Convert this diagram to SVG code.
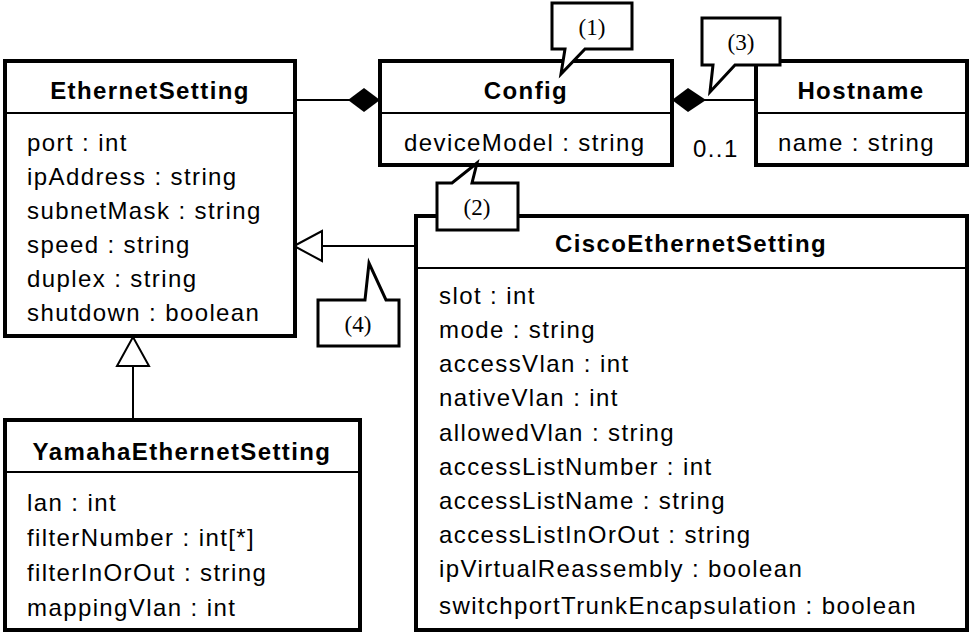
<svg xmlns="http://www.w3.org/2000/svg" width="971" height="634" viewBox="0 0 971 634">
<style>
.box{fill:#fff;stroke:#000;stroke-width:4}
.div{stroke:#000;stroke-width:2}
.t{font-family:"Liberation Sans",Arial,sans-serif;font-size:24px;letter-spacing:1.4px;fill:#000}
.b{font-weight:bold;text-anchor:middle}
.c{fill:#fff;stroke:#000;stroke-width:3}
.n{font-family:"Liberation Serif",serif;font-size:23px;text-anchor:middle}
.ln{stroke:#000;stroke-width:2;fill:none}
</style>
<rect width="971" height="634" fill="#fff"/>
<g id="connectors">
<line class="ln" x1="295" y1="100" x2="350" y2="100"/>
<polygon points="348,100 364,88 380,100 364,112" fill="#000"/>
<line class="ln" x1="704" y1="100" x2="756" y2="100"/>
<polygon points="672,100 688,88 706,100 688,112" fill="#000"/>
<text class="t" x="693" y="157">0..1</text>
<line class="ln" x1="322" y1="246" x2="416" y2="246"/>
<polygon points="294,246 322,231 322,261" fill="#fff" stroke="#000" stroke-width="2"/>
<line class="ln" x1="133" y1="366" x2="133" y2="420"/>
<polygon points="133,337 117,366 149,366" fill="#fff" stroke="#000" stroke-width="2"/>
</g>
<g id="EthernetSetting">
<rect class="box" x="5" y="61" width="290" height="275"/>
<line class="div" x1="5" y1="113" x2="295" y2="113"/>
<text class="t b" x="150" y="99">EthernetSetting</text>
<text class="t" x="27" y="151">port : int</text>
<text class="t" x="27" y="185">ipAddress : string</text>
<text class="t" x="27" y="219">subnetMask : string</text>
<text class="t" x="27" y="253">speed : string</text>
<text class="t" x="27" y="287">duplex : string</text>
<text class="t" x="27" y="321">shutdown : boolean</text>
</g>
<g id="Config">
<rect class="box" x="380" y="61" width="292" height="104"/>
<line class="div" x1="380" y1="113" x2="672" y2="113"/>
<text class="t b" x="526" y="99">Config</text>
<text class="t" x="404" y="151">deviceModel : string</text>
</g>
<g id="Hostname">
<rect class="box" x="756" y="61" width="211" height="104"/>
<line class="div" x1="756" y1="113" x2="967" y2="113"/>
<text class="t b" x="861" y="99">Hostname</text>
<text class="t" x="778" y="151">name : string</text>
</g>
<g id="CiscoEthernetSetting">
<rect class="box" x="416" y="216" width="551" height="414"/>
<line class="div" x1="416" y1="268" x2="967" y2="268"/>
<text class="t b" x="691" y="252">CiscoEthernetSetting</text>
<text class="t" x="439" y="304">slot : int</text>
<text class="t" x="439" y="338">mode : string</text>
<text class="t" x="439" y="372">accessVlan : int</text>
<text class="t" x="439" y="406">nativeVlan : int</text>
<text class="t" x="439" y="441">allowedVlan : string</text>
<text class="t" x="439" y="475">accessListNumber : int</text>
<text class="t" x="439" y="509">accessListName : string</text>
<text class="t" x="439" y="543">accessListInOrOut : string</text>
<text class="t" x="439" y="577">ipVirtualReassembly : boolean</text>
<text class="t" x="439" y="614">switchportTrunkEncapsulation : boolean</text>
</g>
<g id="YamahaEthernetSetting">
<rect class="box" x="5" y="420" width="355" height="210"/>
<line class="div" x1="5" y1="472" x2="360" y2="472"/>
<text class="t b" x="182" y="460">YamahaEthernetSetting</text>
<text class="t" x="27" y="511">lan : int</text>
<text class="t" x="27" y="546">filterNumber : int[*]</text>
<text class="t" x="27" y="581">filterInOrOut : string</text>
<text class="t" x="27" y="616">mappingVlan : int</text>
</g>
<g id="callout1">
<polygon class="c" points="552,3 632,3 632,49 585,49 561,74 565,49 552,49"/>
<text class="n" x="592" y="35">(1)</text>
</g>
<g id="callout2">
<polygon class="c" points="437,183 452,183 477,163 472,183 518,183 518,230 437,230"/>
<text class="n" x="477" y="215">(2)</text>
</g>
<g id="callout3">
<polygon class="c" points="702,18 780,18 780,65 735,65 710,92 713,65 702,65"/>
<text class="n" x="741" y="50">(3)</text>
</g>
<g id="callout4">
<polygon class="c" points="318,300 365,300 369,263 386,300 399,300 399,346 318,346"/>
<text class="n" x="358" y="332">(4)</text>
</g>
</svg>
